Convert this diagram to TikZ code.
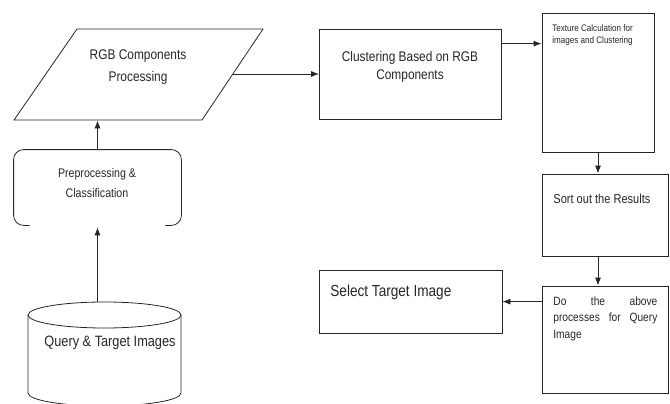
\documentclass[tikz,border=0pt]{standalone}
\usepackage{fontspec}
\setmainfont{Liberation Sans}[FakeStretch=0.85]
\usetikzlibrary{arrows.meta,calc}
\begin{document}
\begin{tikzpicture}[x=1pt,y=-1pt,
  line width=0.8pt, color=black!85,
  box/.style={draw, rectangle, inner sep=0pt},
  ghost/.style={rectangle, inner sep=0pt},
  arr/.style={draw, -{Latex[length=8pt,width=6pt]}},
  lbl/.style={inner sep=0pt}]
\useasboundingbox (0,0) rectangle (670,404);

% RGB parallelogram
\node[ghost, minimum width=249, minimum height=91] (rgb) at (138.5,74.5) {};
\draw (77,29) -- (263,29) -- (202,120) -- (14,120) -- cycle;
\node[lbl, align=center, font=\fontsize{14}{22}\selectfont] (rgbt) at (138,67) {RGB Components\\Processing};
\coordinate (rgbR) at (233,74);

% Preprocessing
\node[ghost, minimum width=167, minimum height=75] (prep) at (97.5,187.5) {};
\draw[rounded corners=10pt] ($(prep.south west)+(16,0)$) -- (prep.south west) -- (prep.north west) -- (prep.north east) -- (prep.south east) -- ($(prep.south east)+(-16,0)$);
\node[lbl, align=center, font=\fontsize{12.5}{20}\selectfont] (prept) at (97,183) {Preprocessing \&\\Classification};

% Cylinder
\coordinate (cyltop) at (104.5,302);
\draw (28,315) -- (28,393) arc[start angle=180, end angle=0, x radius=76.5, y radius=13] -- (181,315);
\draw (104.5,315) ellipse [x radius=76.5, y radius=13];
\node[lbl, font=\fontsize{15}{18}\selectfont] (cylt) at (110,343) {Query \& Target Images};

% Clustering
\node[box, minimum width=182, minimum height=90] (clu) at (410.5,74) {};
\node[lbl, align=center, font=\fontsize{14}{18}\selectfont] (clut) at (410,67) {Clustering Based on RGB\\Components};

% Texture
\node[box, minimum width=112, minimum height=139] (tex) at (598,82.5) {};
\node[lbl, anchor=north west, align=left, font=\fontsize{9.5}{12}\selectfont] (text) at (552,24) {Texture Calculation for\\images and Clustering};

% Sort
\node[box, minimum width=126, minimum height=82] (sort) at (605,215) {};
\node[lbl, anchor=west, font=\fontsize{13}{16}\selectfont] (sortt) at (553,199) {Sort out the Results};

% Do
\node[box, minimum width=126, minimum height=107] (do) at (605,339.5) {};
\node[lbl, anchor=north west, text width=104pt, align=left, font=\fontsize{12}{16.5}\selectfont] (dot) at (553,296)
  {\makebox[104pt][s]{Do\hfill the\hfill above}\\\makebox[104pt][s]{processes\hfill for\hfill Query}\\Image};

% Select
\node[box, minimum width=183, minimum height=63] (sel) at (410.5,301.5) {};
\node[lbl, anchor=west, font=\fontsize{16}{19}\selectfont] (selt) at (330,292) {Select Target Image};

% Connectors
\draw[arr] (rgbR) -- (clu.west);
\coordinate (c1) at ([yshift=-15pt]clu.north east);
\draw[arr] (c1) -- (tex.west |- c1);
\draw[arr] (tex.south) -- (tex.south |- sort.north);
\draw[arr] (sort.south -| tex.south) -- (do.north -| tex.south);
\coordinate (d1) at ([yshift=-16pt]do.north west);
\draw[arr] (d1) -- (sel.east |- d1);
\draw[arr] (prep.north) -- (prep.north |- rgb.south);
\draw[arr] (prep.south |- cyltop) -- ([yshift=-2pt]prep.south);
\end{tikzpicture}
\end{document}
